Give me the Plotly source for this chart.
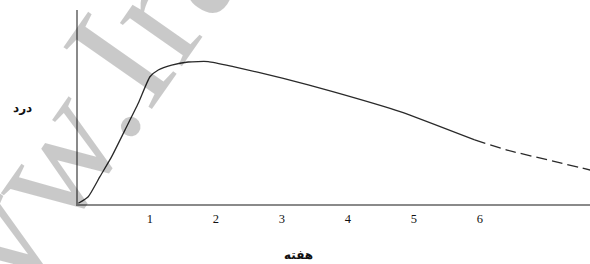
import plotly.graph_objects as go

# weeks (x) and pain level (y, relative 0-100)
solid_x = [-0.086, 0.065, 0.242, 0.42, 0.621, 0.823, 1.0, 1.126, 1.329, 1.58, 1.883, 2.262, 3.02, 3.77, 4.79, 5.92]
solid_y = [0.36, 3.76, 14.07, 24.4, 38.1, 51.9, 65.6, 69.1, 71.6, 73.2, 73.4, 70.8, 64.8, 57.9, 47.6, 33.0]
dash_x = [5.92, 6.41, 7.17, 7.67]
dash_y = [33.0, 27.8, 21.6, 17.5]
tick_vals = [1, 2, 3, 4, 5, 6]
tick_text = ["1", "2", "3", "4", "5", "6"]

fig = go.Figure()
fig.add_trace(go.Scatter(x=solid_x, y=solid_y, mode="lines",
                         line=dict(color="#2a2a2a", width=1.3, shape="spline", smoothing=0.5),
                         hoverinfo="skip", showlegend=False))
fig.add_trace(go.Scatter(x=dash_x, y=dash_y, mode="lines",
                         line=dict(color="#2a2a2a", width=1.3, dash="11px,5px", shape="spline", smoothing=0.5),
                         hoverinfo="skip", showlegend=False))

fig.update_layout(
    width=590, height=264,
    margin=dict(l=78, r=0, t=10, b=60),
    paper_bgcolor="white", plot_bgcolor="white",
    xaxis=dict(range=[-0.09, 7.667], showgrid=False, zeroline=False,
               showline=True, linecolor="#8a8a8a", linewidth=1.5,
               tickmode="array", tickvals=tick_vals, ticktext=tick_text,
               ticks="outside", ticklen=2, tickcolor="rgba(0,0,0,0)",
               tickfont=dict(family="Liberation Serif", size=12.5, color="#111")),
    yaxis=dict(range=[0, 100], showgrid=False, zeroline=False,
               showline=True, linecolor="#8a8a8a", linewidth=1.5,
               showticklabels=False, ticks=""),
    annotations=[
        dict(text="www.Iran", xref="paper", yref="paper", x=-0.020, y=0.37,
             xanchor="center", yanchor="middle", showarrow=False, textangle=-55,
             font=dict(family="Liberation Serif", size=165, color="rgba(0,0,0,0.21)")),
        dict(text="<b>درد</b>", xref="paper", yref="paper", x=-0.109, y=0.495,
             xanchor="center", yanchor="middle", showarrow=False,
             font=dict(family="DejaVu Sans", size=12, color="#111")),
        dict(text="<b>هفته</b>", xref="paper", yref="paper", x=0.4316, y=-0.265,
             xanchor="center", yanchor="middle", showarrow=False,
             font=dict(family="DejaVu Sans", size=12, color="#111")),
    ],
)

fig.write_html("out.html", config={"displayModeBar": False},
               post_script="document.body.style.margin='0';document.body.style.overflow='hidden';")
